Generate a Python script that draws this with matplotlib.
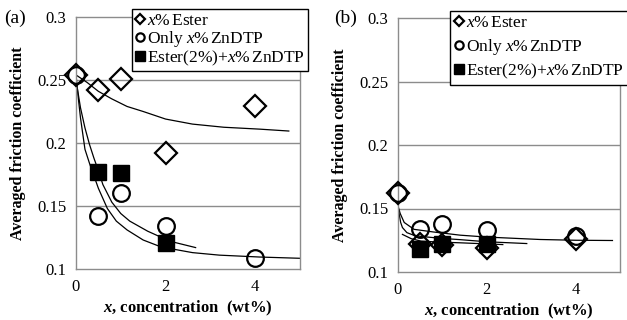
import matplotlib
matplotlib.use("Agg")
from matplotlib import pyplot as plt
from matplotlib.lines import Line2D

plt.rcParams["font.family"] = ["Liberation Serif", "DejaVu Serif"]
plt.rcParams["mathtext.fontset"] = "custom"
plt.rcParams["mathtext.rm"] = "Liberation Serif"
plt.rcParams["mathtext.it"] = "Liberation Serif:italic"
plt.rcParams["mathtext.bf"] = "Liberation Serif:bold"
plt.rcParams["mathtext.bfit"] = "Liberation Serif:italic:bold"

# ---- panel (a) data ----
a_ester_x = [0, 0.5, 1, 2, 4]
a_ester_y = [0.254, 0.242, 0.251, 0.192, 0.229]
a_zn_x = [0, 0.5, 1, 2, 4]
a_zn_y = [0.254, 0.142, 0.160, 0.134, 0.109]
a_mix_x = [0.5, 1, 2]
a_mix_y = [0.177, 0.176, 0.121]

# fitted curves
a_fit_ester_x = [0, 0.25, 0.5, 0.8, 1.14, 1.5, 2.0, 2.6, 3.3, 4.1, 4.75]
a_fit_ester_y = [0.254, 0.248, 0.241, 0.235, 0.229, 0.225, 0.219, 0.215, 0.2125, 0.211, 0.2095]
a_fit_zn_x = [0, 0.05, 0.1, 0.2, 0.3, 0.4, 0.5, 0.7, 0.9, 1.14, 1.5, 1.9, 2.6, 3.2, 4.1, 5.0]
a_fit_zn_y = [0.254, 0.236, 0.220, 0.195, 0.184, 0.174, 0.164, 0.148, 0.138, 0.131, 0.123, 0.1175, 0.113, 0.111, 0.1095, 0.1085]
a_fit_mix_x = [0, 0.1, 0.2, 0.3, 0.4, 0.5, 0.6, 0.8, 1.0, 1.2, 1.6, 2.1, 2.67]
a_fit_mix_y = [0.250, 0.228, 0.212, 0.199, 0.188, 0.178, 0.167, 0.153, 0.144, 0.138, 0.130, 0.122, 0.117]

# ---- panel (b) data ----
b_ester_x = [0, 0.5, 1, 2, 4]
b_ester_y = [0.162, 0.122, 0.121, 0.119, 0.126]
b_zn_x = [0, 0.5, 1, 2, 4]
b_zn_y = [0.162, 0.134, 0.138, 0.133, 0.128]
b_mix_x = [0.5, 1, 2]
b_mix_y = [0.118, 0.122, 0.122]

b_fit_zn_x = [0, 0.05, 0.14, 0.36, 0.8, 1.4, 2.0, 3.2, 4.0, 4.83]
b_fit_zn_y = [0.152, 0.146, 0.139, 0.1336, 0.1315, 0.129, 0.1275, 0.1256, 0.125, 0.1248]
b_fit_ester_x = [0, 0.03, 0.06, 0.1, 0.2, 0.35, 0.52, 0.97, 1.39, 2.0, 2.9]
b_fit_ester_y = [0.152, 0.145, 0.139, 0.135, 0.131, 0.129, 0.128, 0.1265, 0.1255, 0.1238, 0.1224]
b_fit_mix_x = [0.1, 0.3, 0.52, 0.9, 1.39, 2.36]
b_fit_mix_y = [0.1296, 0.1262, 0.1243, 0.1236, 0.1230, 0.1216]

yticks = [0.1, 0.15, 0.2, 0.25, 0.3]
yticklabels = ["0.1", "0.15", "0.2", "0.25", "0.3"]
xticks = [0, 2, 4]
legend_labels = [r"$\mathit{x}$%$\,$Ester", r"Only $\mathit{x}$%$\,$ZnDTP", r"Ester(2%)+$\mathit{x}$%$\,$ZnDTP"]

gray = "#8c8c8c"

fig = plt.figure(figsize=(6.27, 3.2), dpi=100)
ax_a = fig.add_axes([76 / 627, 51 / 320, 224 / 627, 252 / 320])
ax_b = fig.add_axes([398 / 627, 48 / 320, 222 / 627, 254 / 320])


def style_axes(ax):
    ax.set_xlim(0, 5)
    ax.set_ylim(0.1, 0.3)
    ax.set_yticks(yticks)
    ax.set_yticklabels(yticklabels)
    ax.set_xticks(xticks)
    ax.tick_params(length=0, labelsize=12, pad=7)
    for s in ax.spines.values():
        s.set_color(gray)
        s.set_linewidth(1.0)
    for y in yticks[1:-1]:
        ax.axhline(y, color=gray, lw=1.0, zorder=0)
    ax.set_ylabel("Averaged friction coefficient", fontsize=11.5, fontweight="bold", labelpad=8)
    ax.set_xlabel(r"$\mathbfit{x}$, concentration  (wt%)", fontsize=12, fontweight="bold", labelpad=3)


def draw_points(ax, ex, ey, zx, zy, mx, my):
    ax.plot(ex, ey, "D", ms=11, mfc="none", mec="black", mew=1.6, zorder=3, clip_on=False)
    ax.plot(zx, zy, "o", ms=12, mfc="none", mec="black", mew=1.6, zorder=3, clip_on=False)
    ax.plot(mx, my, "s", ms=11, mfc="black", mec="black", zorder=4, clip_on=False)


style_axes(ax_a)
draw_points(ax_a, a_ester_x, a_ester_y, a_zn_x, a_zn_y, a_mix_x, a_mix_y)
ax_a.plot(a_fit_ester_x, a_fit_ester_y, color="black", lw=0.9, zorder=2)
ax_a.plot(a_fit_zn_x, a_fit_zn_y, color="black", lw=0.9, zorder=2)
ax_a.plot(a_fit_mix_x, a_fit_mix_y, color="black", lw=0.9, zorder=2)

style_axes(ax_b)
draw_points(ax_b, b_ester_x, b_ester_y, b_zn_x, b_zn_y, b_mix_x, b_mix_y)
ax_b.plot(b_fit_zn_x, b_fit_zn_y, color="black", lw=0.9, zorder=2)
ax_b.plot(b_fit_ester_x, b_fit_ester_y, color="black", lw=0.9, zorder=2)
ax_b.plot(b_fit_mix_x, b_fit_mix_y, color="black", lw=0.9, zorder=2)

handles = [
    Line2D([], [], marker="D", ls="none", ms=5, mfc="none", mec="black", mew=1.6),
    Line2D([], [], marker="o", ls="none", ms=6, mfc="none", mec="black", mew=1.6),
    Line2D([], [], marker="s", ls="none", ms=7, mfc="black", mec="black"),
]

leg_a = fig.legend(handles, legend_labels, loc="upper left", bbox_to_anchor=(132 / 627, 1 - 9 / 320),
                   fontsize=12.5, frameon=True, fancybox=False, edgecolor="black", framealpha=1,
                   handlelength=0.5, handletextpad=0.15, labelspacing=0.0, borderpad=0.2,
                   borderaxespad=0)
leg_a.get_frame().set_linewidth(1.0)
leg_b = fig.legend(handles, legend_labels, loc="upper left", bbox_to_anchor=(450 / 627, 1 - 11 / 320),
                   fontsize=12.5, frameon=True, fancybox=False, edgecolor="black", framealpha=1,
                   handlelength=0.5, handletextpad=0.15, labelspacing=0.3, borderpad=0.25,
                   borderaxespad=0)
leg_b.get_frame().set_linewidth(1.0)

fig.text(4 / 627, 1 - 18 / 320, "(a)", fontsize=14, va="center", ha="left")
fig.text(334 / 627, 1 - 18 / 320, "(b)", fontsize=14, va="center", ha="left")

fig.savefig("out.png", dpi=100)
